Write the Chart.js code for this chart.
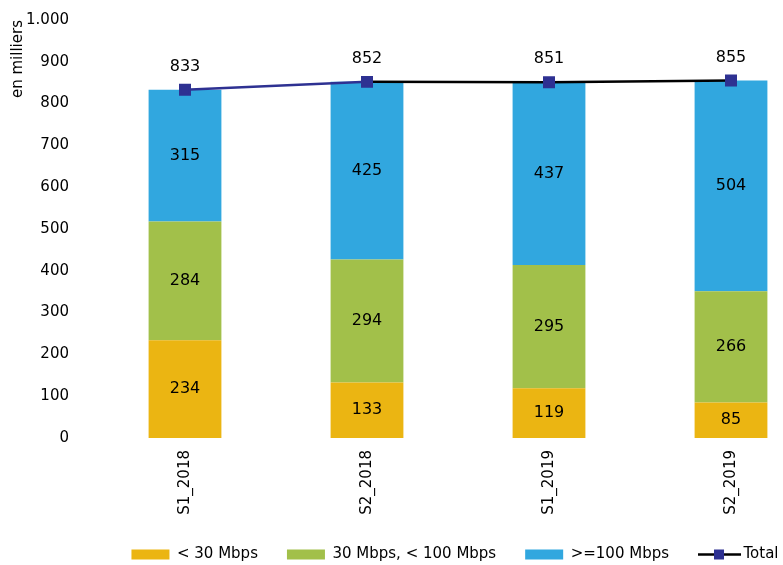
<!DOCTYPE html>
<html>
<head>
<meta charset="utf-8">
<script src="https://cdn.jsdelivr.net/npm/chart.js@4/dist/chart.umd.min.js"></script>
<style>
  body { margin: 0; background: #fff; }
  #wrap { width: 783px; height: 565px; overflow: hidden; }
</style>
</head>
<body>
<div id="wrap"><canvas id="chart" width="910" height="565"></canvas></div>
<script>
// données (en milliers)
const periods = ['S1_2018', 'S2_2018', 'S1_2019', 'S2_2019'];
const below30 = [234, 133, 119, 85];
const from30to100 = [284, 294, 295, 266];
const above100 = [315, 425, 437, 504];
const totals = [833, 852, 851, 855];
const yTicks = [0, 100, 200, 300, 400, 500, 600, 700, 800, 900, 1000];

const NAVY = '#2E3192';
const FONT = 'DejaVu Sans';

// étiquettes de valeurs sur les barres et au-dessus de la ligne
const valueLabels = {
    id: 'valueLabels',
    afterDatasetsDraw(chart) {
        const ctx = chart.ctx;
        ctx.save();
        ctx.fillStyle = '#000';
        ctx.font = '16px "' + FONT + '"';
        ctx.textAlign = 'center';
        ctx.textBaseline = 'middle';
        chart.data.datasets.forEach((ds, i) => {
            const meta = chart.getDatasetMeta(i);
            meta.data.forEach((el, j) => {
                if (ds.type === 'line') {
                    ctx.fillText(ds.data[j], el.x, el.y - 23);
                } else {
                    ctx.fillText(ds.data[j], el.x, (el.y + el.base) / 2);
                }
            });
        });
        ctx.restore();
    },
    afterDraw(chart) {
        // symbole ligne + carré pour "Total" dans la légende
        const legend = chart.legend;
        if (!legend || !legend.legendHitBoxes) return;
        const box = legend.legendHitBoxes[3];
        if (!box) return;
        const ctx = chart.ctx;
        const y = box.top + box.height / 2;
        ctx.save();
        ctx.strokeStyle = '#000';
        ctx.lineWidth = 2.5;
        ctx.beginPath();
        ctx.moveTo(box.left, y);
        ctx.lineTo(box.left + 43, y);
        ctx.stroke();
        ctx.fillStyle = NAVY;
        ctx.fillRect(box.left + 16, y - 5, 10, 10);
        ctx.restore();
    }
};

new Chart(document.getElementById('chart'), {
    data: {
        labels: periods,
        datasets: [
            { type: 'bar', label: '< 30 Mbps', data: below30, backgroundColor: '#EBB512', order: 1, stack: 'debit' },
            { type: 'bar', label: '30 Mbps, < 100 Mbps', data: from30to100, backgroundColor: '#A2C04A', order: 1, stack: 'debit' },
            { type: 'bar', label: '>=100 Mbps', data: above100, backgroundColor: '#31A7DF', order: 1, stack: 'debit' },
            {
                type: 'line', label: 'Total', data: totals, order: 0, stack: 'total',
                borderColor: '#000', borderWidth: 2.5, backgroundColor: NAVY,
                pointStyle: 'rect', pointRadius: 6.7, pointBackgroundColor: NAVY, pointBorderColor: NAVY,
                segment: { borderColor: c => c.p0DataIndex === 0 ? NAVY : '#000' }
            }
        ]
    },
    options: {
        responsive: false,
        animation: false,
        datasets: { bar: { barPercentage: 0.4, categoryPercentage: 1 } },
        layout: { padding: { top: 20, bottom: 0, left: 0, right: 0 } },
        plugins: {
            tooltip: { enabled: false },
            legend: {
                position: 'bottom',
                maxHeight: 47,
                labels: {
                    font: { family: FONT, size: 15 },
                    color: '#000',
                    boxWidth: 38,
                    boxHeight: 10,
                    padding: 29,
                    sort: (a, b) => a.datasetIndex - b.datasetIndex,
                    generateLabels(chart) {
                        const items = Chart.defaults.plugins.legend.labels.generateLabels(chart);
                        items.forEach(it => {
                            it.lineWidth = 0;
                            if (it.text === 'Total') {
                                it.fillStyle = 'rgba(0,0,0,0)';
                                it.strokeStyle = 'rgba(0,0,0,0)';
                            }
                        });
                        return items;
                    }
                }
            }
        },
        scales: {
            x: {
                stacked: true,
                grid: { display: false },
                border: { display: false },
                ticks: {
                    minRotation: 90, maxRotation: 90, padding: 4,
                    font: { family: FONT, size: 15 }, color: '#000'
                },
                afterFit: s => { s.height = 80; }
            },
            y: {
                stacked: true,
                min: 0, max: 1000,
                grid: { display: false },
                border: { display: false },
                afterBuildTicks: s => { s.ticks = yTicks.map(v => ({ value: v })); },
                ticks: {
                    padding: 17,
                    font: { family: FONT, size: 15 }, color: '#000',
                    callback: v => v.toLocaleString('de-DE')
                },
                title: {
                    display: true, text: 'en milliers', align: 'end',
                    font: { family: FONT, size: 15 }, color: '#000',
                    padding: { top: 9 }
                },
                afterFit: s => { s.width = 94; s.paddingTop = 0; s.paddingBottom = 0; }
            },
            y2: {
                position: 'right',
                grid: { display: false },
                border: { display: false },
                ticks: { display: false },
                afterFit: s => { s.width = 88; s.paddingTop = 0; s.paddingBottom = 0; }
            }
        }
    },
    plugins: [valueLabels]
});
</script>
</body>
</html>
